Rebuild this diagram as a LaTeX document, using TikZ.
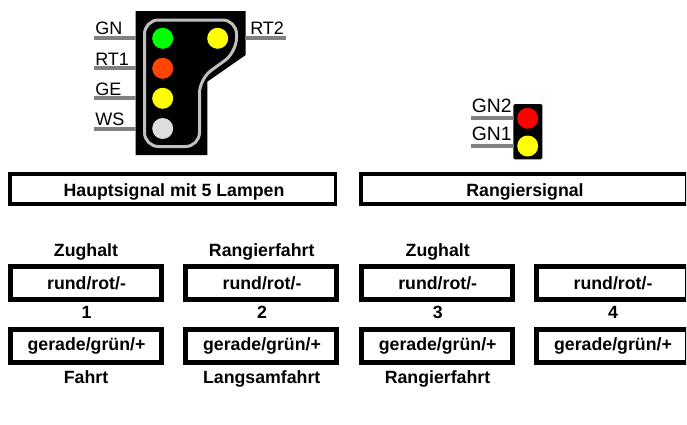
\documentclass[tikz,border=0pt]{standalone}
\usepackage{fontspec}
\setmainfont{Liberation Sans}
\definecolor{stub}{RGB}{128,128,128}
\definecolor{outline}{RGB}{192,192,192}
\definecolor{lampgreen}{RGB}{0,255,0}
\definecolor{lamporange}{RGB}{255,69,0}
\definecolor{lampyellow}{RGB}{255,255,0}
\definecolor{lampred}{RGB}{255,0,0}
\definecolor{lampwhite}{RGB}{221,221,221}
\tikzset{
  stubline/.style={draw=stub,line width=4*0.75pt},
  lamp/.style={circle,inner sep=0pt,minimum size=21*0.75pt},
  wirelabel/.style={inner sep=0pt,anchor=base west,font=\fontsize{13.5}{13.5}\selectfont},
  smalllabel/.style={inner sep=0pt,anchor=base west,font=\fontsize{14.5}{14.5}\selectfont},
  caption/.style={inner sep=0pt,anchor=base,font=\bfseries\fontsize{13.3}{15}\selectfont},
  titlebox/.style={draw=black,line width=3.5*0.75pt,fill=white,inner sep=0pt},
  statebox/.style={draw=black,line width=5*0.75pt,fill=white,inner sep=0pt},
}
\begin{document}
\begin{tikzpicture}[x=0.75pt,y=-0.75pt]
\useasboundingbox (0,0) rectangle (687,425);
\fill[white] (0,0) rectangle (687,425);
% main signal
\fill[black] (135.7,11) -- (245.7,11) -- (245.7,55) -- (207.3,81.7) -- (207.3,155) -- (135.7,155) -- cycle;
\draw[outline,line width=3*0.75pt,rounded corners=14*0.75pt] (144.5,20) -- (236.5,20) -- (236.5,52) -- (199.5,79) -- (199.5,146.5) -- (144.5,146.5) -- cycle;
\node[lamp,fill=lampgreen] (gn) at (162.7,38.3) {};
\node[lamp,fill=lamporange] (rta) at (162.7,68.3) {};
\node[lamp,fill=lampyellow] (ge) at (162.7,98.3) {};
\node[lamp,fill=lampwhite] (ws) at (162.7,128.5) {};
\node[lamp,fill=lampyellow] (rtb) at (217.7,38.3) {};
\coordinate (gnw) at (94,38.3);
\coordinate (rtaw) at (94,68.3);
\coordinate (gew) at (94,98.3);
\coordinate (wsw) at (94,128.5);
\coordinate (rtbw) at (286,38.3);
\draw[stubline] (gnw) -- (136,38.3);
\draw[stubline] (rtaw) -- (136,68.3);
\draw[stubline] (gew) -- (136,98.3);
\draw[stubline] (wsw) -- (136,128.5);
\draw[stubline] (245,38.3) -- (rtbw);
\node[wirelabel] (lgn) at (95,34.5) {GN};
\node[wirelabel] (lrta) at (95,65) {RT1};
\node[wirelabel] (lge) at (95,95) {GE};
\node[wirelabel] (lws) at (95,125) {WS};
\node[wirelabel] (lrtb) at (250,34.5) {RT2};
% shunting signal
\fill[black,rounded corners=1.5*0.75pt] (513.3,104) rectangle (542.3,159.3);
\node[lamp,fill=lampred] (gnb) at (527.7,118.3) {};
\node[lamp,fill=lampyellow] (gna) at (527.7,146) {};
\coordinate (gnbw) at (471,118.3);
\coordinate (gnaw) at (471,145.7);
\draw[stubline] (gnbw) -- (514,118.3);
\draw[stubline] (gnaw) -- (514,145.7);
\node[smalllabel] (lgnb) at (471.5,112.7) {GN2};
\node[smalllabel] (lgna) at (471.5,140) {GN1};
% boxes clipped at the right edge of the drawing
\begin{scope}
\clip (0,0) rectangle (686.2,425);
\node[titlebox,minimum width=325.5*0.75pt,minimum height=29.9*0.75pt] (t1) at (172.5,189) {};
\node[titlebox,minimum width=326*0.75pt,minimum height=29.9*0.75pt] (t2) at (523.75,189) {};
\foreach \n/\cx in {1/86,2/261.2,3/436.6,4/611.6}{
  \node[statebox,minimum width=151*0.75pt,minimum height=33*0.75pt] (r\n) at (\cx,282.8) {};
  \node[statebox,minimum width=151*0.75pt,minimum height=33*0.75pt] (g\n) at (\cx,345.6) {};
}
\end{scope}
\node[caption] at (174,196.7) {Hauptsignal mit 5 Lampen};
\node[caption] at (525,196.7) {Rangiersignal};
\foreach \n/\tx in {1/86.5,2/262,3/437.7,4/613}{
  \node[caption] at (\tx,289) {rund/rot/-};
  \node[caption] at (\tx,350.7) {gerade/grün/+};
  \node[caption] at (\tx,318.3) {\n};
}
\node[caption] at (86,256.7) {Zughalt};
\node[caption] at (261.7,256.7) {Rangierfahrt};
\node[caption] at (437.7,256.7) {Zughalt};
\node[caption] at (86,383.3) {Fahrt};
\node[caption] at (261.7,383.3) {Langsamfahrt};
\node[caption] at (437.5,383.3) {Rangierfahrt};
\end{tikzpicture}
\end{document}
